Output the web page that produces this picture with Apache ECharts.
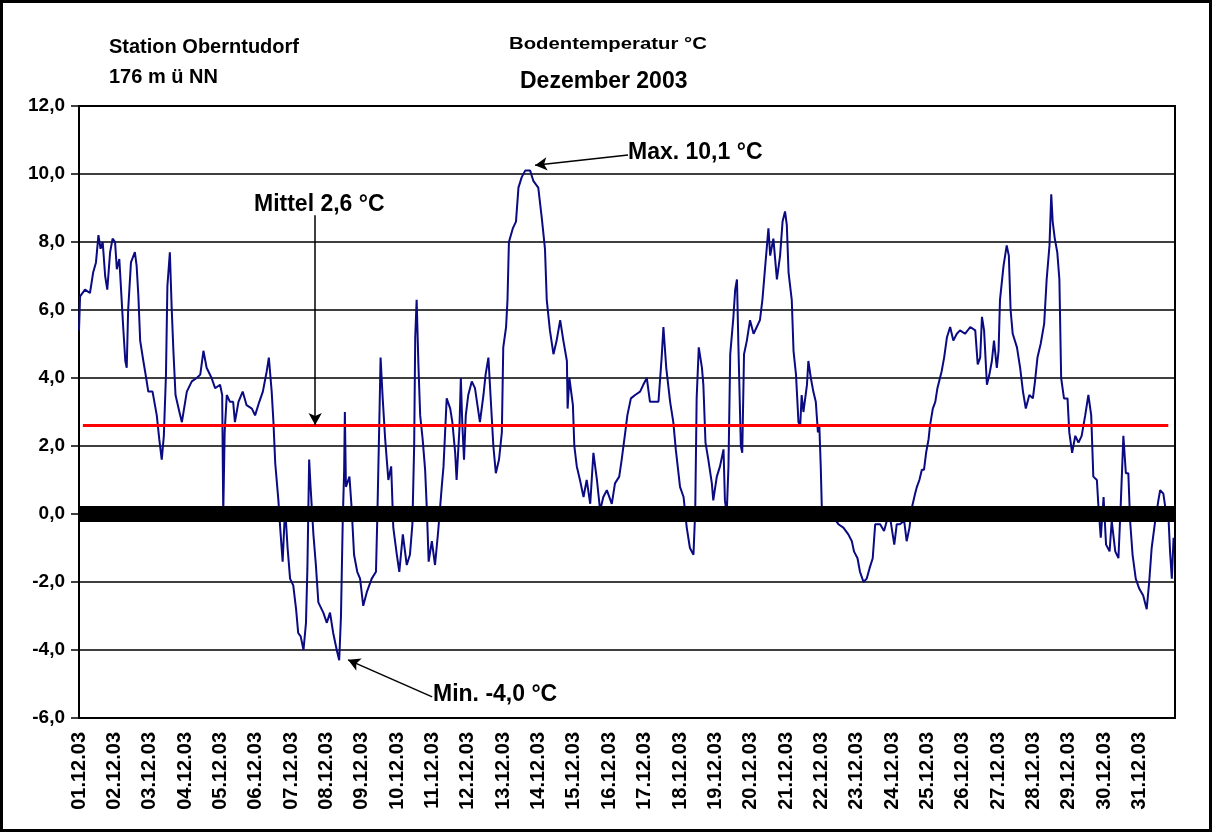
<!DOCTYPE html>
<html>
<head>
<meta charset="utf-8">
<script src="https://cdn.jsdelivr.net/npm/echarts@6/dist/echarts.min.js"></script>
<style>
  html, body { margin: 0; padding: 0; background: #fff; }
  #chart { width: 1212px; height: 832px; }
</style>
</head>
<body>
<div id="chart"></div>
<script>
// Zeit in Tagen ab 01.12.03 00:00 Uhr
var zeit = [
  0.00, 0.03, 0.17, 0.31, 0.40, 0.48, 0.55, 0.61, 0.67, 0.74,
  0.80, 0.88, 0.95, 1.02, 1.07, 1.14, 1.19, 1.25, 1.31, 1.35,
  1.39, 1.47, 1.58, 1.63, 1.68, 1.73, 1.82, 1.90, 1.96, 2.08,
  2.20, 2.27, 2.34, 2.40, 2.46, 2.50, 2.57, 2.62, 2.67, 2.73,
  2.84, 2.91, 3.05, 3.19, 3.33, 3.43, 3.52, 3.61, 3.75, 3.85,
  3.99, 4.05, 4.08, 4.12, 4.18, 4.27, 4.36, 4.41, 4.51, 4.63,
  4.74, 4.89, 4.98, 5.10, 5.20, 5.31, 5.37, 5.45, 5.50, 5.55,
  5.64, 5.69, 5.76, 5.83, 5.88, 5.90, 5.97, 6.06, 6.14, 6.20,
  6.27, 6.35, 6.42, 6.46, 6.51, 6.55, 6.63, 6.70, 6.77, 6.91,
  7.01, 7.10, 7.19, 7.29, 7.36, 7.41, 7.46, 7.50, 7.52, 7.55,
  7.65, 7.71, 7.78, 7.87, 7.95, 8.04, 8.14, 8.28, 8.40, 8.44,
  8.50, 8.53, 8.59, 8.66, 8.75, 8.83, 8.89, 8.99, 9.06, 9.16,
  9.27, 9.36, 9.43, 9.48, 9.51, 9.55, 9.60, 9.65, 9.72, 9.79,
  9.84, 9.89, 9.98, 10.07, 10.16, 10.26, 10.31, 10.40, 10.50, 10.56,
  10.64, 10.68, 10.76, 10.80, 10.84, 10.89, 10.94, 11.01, 11.11, 11.20,
  11.34, 11.44, 11.50, 11.58, 11.65, 11.72, 11.79, 11.88, 11.96, 12.00,
  12.08, 12.12, 12.16, 12.27, 12.36, 12.43, 12.52, 12.62, 12.76, 12.85,
  12.99, 13.09, 13.18, 13.23, 13.32, 13.42, 13.51, 13.61, 13.70, 13.80,
  13.82, 13.87, 13.97, 14.01, 14.08, 14.17, 14.27, 14.36, 14.46, 14.55,
  14.65, 14.74, 14.83, 14.93, 15.07, 15.16, 15.28, 15.35, 15.45, 15.51,
  15.61, 15.73, 15.87, 15.96, 16.06, 16.15, 16.39, 16.48, 16.53, 16.61,
  16.72, 16.81, 16.88, 17.00, 17.10, 17.19, 17.28, 17.38, 17.43, 17.47,
  17.53, 17.62, 17.66, 17.72, 17.80, 17.90, 17.94, 18.04, 18.13, 18.23,
  18.27, 18.32, 18.37, 18.42, 18.51, 18.56, 18.61, 18.65, 18.72, 18.76,
  18.81, 18.89, 18.98, 19.08, 19.17, 19.26, 19.33, 19.41, 19.50, 19.55,
  19.64, 19.74, 19.83, 19.90, 19.97, 20.02, 20.07, 20.16, 20.21, 20.28,
  20.35, 20.40, 20.44, 20.49, 20.59, 20.63, 20.70, 20.77, 20.84, 20.90,
  20.94, 20.98, 21.02, 21.10, 21.34, 21.48, 21.62, 21.76, 21.86, 21.92,
  22.02, 22.09, 22.19, 22.28, 22.36, 22.45, 22.52, 22.66, 22.77, 22.85,
  22.94, 23.06, 23.13, 23.22, 23.34, 23.41, 23.49, 23.56, 23.65, 23.70,
  23.77, 23.84, 23.90, 23.96, 24.03, 24.07, 24.15, 24.22, 24.28, 24.40,
  24.47, 24.55, 24.64, 24.73, 24.83, 24.92, 25.06, 25.21, 25.35, 25.42,
  25.49, 25.54, 25.60, 25.68, 25.75, 25.82, 25.88, 25.96, 26.01, 26.05,
  26.15, 26.24, 26.30, 26.35, 26.41, 26.53, 26.62, 26.70, 26.78, 26.88,
  26.98, 27.04, 27.11, 27.20, 27.30, 27.37, 27.45, 27.50, 27.54, 27.60,
  27.67, 27.73, 27.78, 27.86, 27.96, 28.01, 28.09, 28.18, 28.27, 28.36,
  28.46, 28.55, 28.63, 28.69, 28.79, 28.83, 28.90, 28.98, 29.05, 29.15,
  29.21, 29.31, 29.40, 29.47, 29.54, 29.61, 29.68, 29.73, 29.80, 29.89,
  29.99, 30.10, 30.20, 30.27, 30.34, 30.44, 30.53, 30.58, 30.67, 30.74,
  30.82, 30.86, 30.91, 30.96
];

// Bodentemperatur in °C
var temp = [
  5.4, 6.4, 6.6, 6.5, 7.1, 7.4, 8.2, 7.8, 8.0, 7.0,
  6.6, 7.7, 8.1, 8.0, 7.2, 7.5, 6.6, 5.5, 4.5, 4.3,
  6.0, 7.4, 7.7, 7.3, 6.4, 5.1, 4.5, 4.0, 3.6, 3.6,
  2.9, 2.2, 1.6, 2.3, 4.1, 6.7, 7.7, 6.1, 4.8, 3.5,
  3.0, 2.7, 3.6, 3.9, 4.0, 4.1, 4.8, 4.3, 4.0, 3.7,
  3.8, 3.5, 0.0, 2.4, 3.5, 3.3, 3.3, 2.7, 3.3, 3.6,
  3.2, 3.1, 2.9, 3.3, 3.6, 4.2, 4.6, 3.6, 2.7, 1.5,
  0.4, -0.4, -1.4, 0.2, 0.2, -1.0, -1.9, -2.1, -2.8, -3.5,
  -3.6, -4.0, -3.2, -1.6, 1.6, 0.8, -0.6, -1.5, -2.6, -2.9,
  -3.2, -2.9, -3.5, -4.0, -4.3, -3.0, -0.2, 1.3, 3.0, 0.8,
  1.1, 0.2, -1.2, -1.7, -1.9, -2.7, -2.3, -1.9, -1.7, 0.0,
  3.0, 4.6, 3.4, 2.2, 1.0, 1.4, -0.4, -1.2, -1.7, -0.6,
  -1.5, -1.2, -0.3, 2.0, 5.2, 6.3, 4.4, 2.9, 2.2, 1.3,
  0.1, -1.4, -0.8, -1.5, -0.5, 0.8, 1.4, 3.4, 3.1, 2.7,
  1.8, 1.0, 2.5, 4.0, 2.7, 1.6, 2.9, 3.5, 3.9, 3.7,
  2.7, 3.5, 4.1, 4.6, 3.3, 2.0, 1.2, 1.6, 2.4, 4.9,
  5.5, 6.3, 8.0, 8.4, 8.6, 9.6, 9.9, 10.1, 10.1, 9.8,
  9.6, 8.7, 7.8, 6.3, 5.4, 4.7, 5.1, 5.7, 5.1, 4.5,
  3.1, 4.0, 3.2, 2.0, 1.4, 1.0, 0.5, 1.0, 0.3, 1.8,
  1.0, 0.1, 0.5, 0.7, 0.3, 0.9, 1.1, 1.6, 2.4, 2.9,
  3.4, 3.5, 3.6, 3.8, 4.0, 3.3, 3.3, 4.6, 5.5, 4.3,
  3.3, 2.7, 1.9, 0.8, 0.5, -0.4, -1.0, -1.2, 0.1, 3.4,
  4.9, 4.3, 3.8, 2.1, 1.6, 0.9, 0.4, 1.1, 1.4, 1.9,
  0.4, 0.0, 1.4, 4.7, 5.8, 6.6, 6.9, 5.0, 2.0, 1.8,
  4.7, 5.1, 5.7, 5.3, 5.5, 5.7, 6.3, 7.3, 8.4, 7.6,
  8.1, 6.9, 7.6, 8.6, 8.9, 8.5, 7.1, 6.3, 4.8, 4.1,
  2.7, 2.6, 3.5, 3.0, 3.8, 4.5, 4.0, 3.6, 3.3, 2.4,
  2.6, 1.4, -0.2, -0.1, -0.1, -0.3, -0.4, -0.6, -0.8, -1.1,
  -1.3, -1.7, -2.0, -1.9, -1.6, -1.3, -0.3, -0.3, -0.5, -0.2,
  -0.1, -0.9, -0.3, -0.3, -0.2, -0.8, -0.4, 0.2, 0.6, 0.8,
  1.0, 1.3, 1.3, 1.8, 2.2, 2.6, 3.1, 3.3, 3.7, 4.2,
  4.6, 5.2, 5.5, 5.1, 5.3, 5.4, 5.3, 5.5, 5.4, 4.4,
  4.6, 5.8, 5.4, 3.8, 4.1, 4.5, 5.1, 4.3, 4.8, 6.3,
  7.3, 7.9, 7.6, 6.0, 5.3, 4.9, 4.3, 3.6, 3.1, 3.5,
  3.4, 3.9, 4.6, 5.0, 5.6, 6.9, 7.9, 9.4, 8.6, 8.1,
  7.7, 6.9, 4.0, 3.4, 3.4, 2.4, 1.8, 2.3, 2.1, 2.3,
  2.9, 3.5, 2.9, 1.1, 1.0, 0.3, -0.7, 0.5, -0.9, -1.1,
  -0.2, -1.1, -1.3, 0.4, 2.3, 1.2, 1.2, -0.2, -1.2, -1.9,
  -2.2, -2.4, -2.8, -2.0, -1.0, -0.2, 0.4, 0.7, 0.6, 0.1,
  -0.2, -1.1, -1.9, -0.7
];

var tage = [
  '01.12.03', '02.12.03', '03.12.03', '04.12.03', '05.12.03', '06.12.03',
  '07.12.03', '08.12.03', '09.12.03', '10.12.03', '11.12.03', '12.12.03',
  '13.12.03', '14.12.03', '15.12.03', '16.12.03', '17.12.03', '18.12.03',
  '19.12.03', '20.12.03', '21.12.03', '22.12.03', '23.12.03', '24.12.03',
  '25.12.03', '26.12.03', '27.12.03', '28.12.03', '29.12.03', '30.12.03',
  '31.12.03'
];

var yMin = -6, yMax = 12, yStep = 2;
var mittel = 2.6;
var mittelVon = 0.11, mittelBis = 30.81;

var fontName = '"Liberation Sans", Arial, sans-serif';

var messwerte = zeit.map(function (t, i) { return [t, temp[i]]; });

var myChart = echarts.init(document.getElementById('chart'));

function txt(text, x, y, size, sx) {
  return {
    type: 'text',
    x: x, y: y,
    scaleX: sx || 1,
    style: {
      text: text,
      fill: '#000',
      font: 'bold ' + size + 'px ' + fontName,
      verticalAlign: 'middle'
    }
  };
}

var option = {
  backgroundColor: '#fff',
  animation: false,
  grid: {
    left: 79, right: 37, top: 106, bottom: 114,
    show: true, borderColor: '#000', borderWidth: 2
  },
  xAxis: {
    type: 'value',
    min: 0, max: tage.length, interval: 1,
    axisLine: { show: true, lineStyle: { color: '#000', width: 2 } },
    axisTick: { show: false },
    splitLine: { show: false },
    axisLabel: {
      rotate: 90,
      margin: 14,
      color: '#000',
      fontWeight: 'bold',
      fontSize: 20,
      fontFamily: fontName,
      formatter: function (v) {
        var i = Math.round(v);
        return i < tage.length ? tage[i] : '';
      }
    }
  },
  yAxis: {
    type: 'value',
    min: yMin, max: yMax, interval: yStep,
    axisLine: { show: true, lineStyle: { color: '#000', width: 2 } },
    axisTick: { show: true, length: 8, lineStyle: { color: '#000', width: 1.5 } },
    splitLine: { show: true, lineStyle: { color: '#000', width: 1.5 } },
    axisLabel: {
      margin: 14,
      color: '#000',
      fontWeight: 'bold',
      fontSize: 19,
      fontFamily: fontName,
      formatter: function (v) { return v.toFixed(1).replace('.', ','); }
    }
  },
  series: [
    {
      name: 'Bodentemperatur',
      type: 'line',
      data: messwerte,
      showSymbol: false,
      lineStyle: { color: '#0a0a82', width: 2 },
      z: 2
    },
    {
      name: 'Nulllinie',
      type: 'line',
      data: [[0, 0], [tage.length, 0]],
      showSymbol: false,
      silent: true,
      lineStyle: { color: '#000', width: 16 },
      z: 3
    },
    {
      name: 'Mittel',
      type: 'line',
      data: [[mittelVon, mittel], [mittelBis, mittel]],
      showSymbol: false,
      silent: true,
      lineStyle: { color: '#ff0000', width: 3 },
      z: 4,
      markLine: {
        silent: true,
        symbol: ['none', 'arrow'],
        symbolSize: [10, 12],
        label: { show: false },
        lineStyle: { color: '#000', width: 1.5, type: 'solid' },
        data: [
          [{ coord: [6.68, 8.79] }, { coord: [6.68, 2.62] }],
          [{ coord: [15.53, 10.56] }, { coord: [12.9, 10.26] }],
          [{ coord: [9.99, -5.38] }, { coord: [7.61, -4.29] }]
        ]
      }
    }
  ],
  graphic: [
    {
      type: 'rect',
      shape: { x: 1.5, y: 1.5, width: 1209, height: 829 },
      style: { fill: 'none', stroke: '#000', lineWidth: 3 }
    },
    txt('Station Oberntudorf', 109, 47, 20),
    txt('176 m ü NN', 109, 77, 20),
    txt('Bodentemperatur °C', 509, 45, 16, 1.27),
    txt('Dezember 2003', 520, 82, 23),
    txt('Mittel 2,6 °C', 254, 205, 23),
    txt('Max. 10,1 °C', 628, 153, 23),
    txt('Min. -4,0 °C', 433, 695, 23)
  ]
};

myChart.setOption(option);
</script>
</body>
</html>
